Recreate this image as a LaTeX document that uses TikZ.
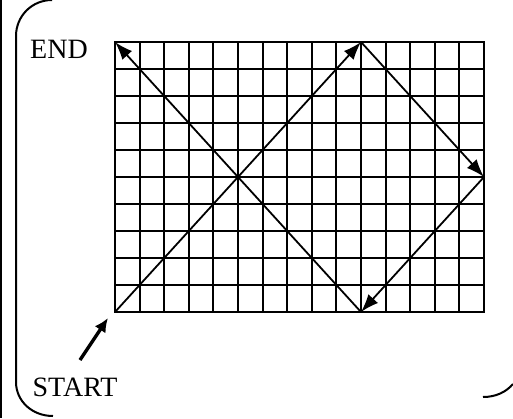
\documentclass[tikz,border=0pt]{standalone}
\usepackage{fontspec}
\setmainfont{Liberation Serif}
\usetikzlibrary{arrows.meta}
\begin{document}
\begin{tikzpicture}[x=1pt,y=-1pt,
  gridline/.style={line width=2pt,black},
  diag/.style={line width=1.8pt,-{Latex[length=18pt,width=13pt]}},
  bigarrow/.style={line width=3.4pt,-{Latex[length=14pt,width=13pt]}},
  frame/.style={line width=2pt},
  lbl/.style={font=\fontsize{28}{32}\selectfont,inner sep=0pt}]
\useasboundingbox (0,0) rectangle (513,418);
% grid
\foreach \i in {0,...,15} \draw[gridline] ({115+\i*24.6},42) -- ({115+\i*24.6},312);
\foreach \j in {0,...,10} \draw[gridline] (114,{42+\j*27}) -- (485,{42+\j*27});
% key points
\coordinate (BL) at (115,312);
\coordinate (TL) at (115,42);
\coordinate (T) at (361,42);
\coordinate (R) at (484,177);
\coordinate (B) at (361,312);
% diagonals
\draw[diag] (BL) -- (T);
\draw[diag] (T) -- (R);
\draw[diag] (R) -- (B);
\draw[diag] (B) -- (TL);
% labels
\node[lbl] (end) at (59,49) {END};
\node[lbl] (start) at (75,387) {START};
\coordinate (s0) at (80,360);
\coordinate (s1) at (108,318);
\draw[bigarrow] (s0) -- (s1);
% frame
\draw[frame] (52,0) .. controls (32,0) and (16,16) .. (16,36) -- (16,382)
  .. controls (16,401) and (32,416) .. (53,416);
\draw[frame] (483,397) .. controls (496,397) and (506,392) .. (513,384);
\draw[line width=1.8pt] (0.9,0) -- (0.9,418);
\end{tikzpicture}
\end{document}
